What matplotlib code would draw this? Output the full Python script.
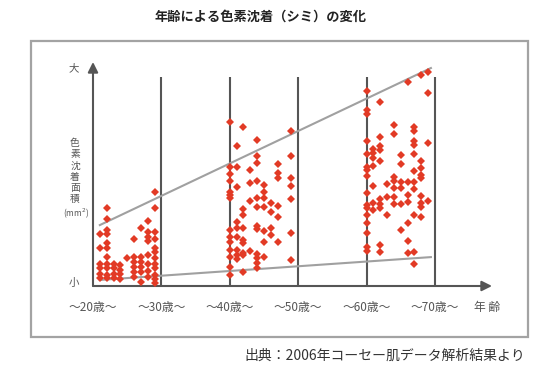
import matplotlib.pyplot as plt
from matplotlib.patches import Rectangle

plt.rcParams['font.family'] = ['Noto Sans CJK JP', 'DejaVu Sans']

# data (age in years, relative spot area 0-100)
age_20s = [29, 22, 29, 22, 28, 27, 22, 22, 21, 28,
           29, 28, 29, 26, 28, 22, 21, 22, 29, 22,
           29, 29, 28, 27, 26, 25, 21, 22, 23, 24,
           26, 27, 28, 29, 21, 22, 23, 24, 26, 27,
           29, 26, 27, 28, 21, 22, 23, 24, 26, 28,
           29, 21, 22, 23, 24, 29, 27, 29]
area_20s = [42, 35, 35, 30, 29, 26, 25, 23, 23, 24,
            24, 22, 21, 21, 20, 19, 17, 17, 17, 13,
            15, 12.5, 14, 13, 13, 12.5, 10, 10, 10, 9.4,
            10.7, 10.7, 10, 10, 8, 8, 8, 7, 8.5, 8.5,
            8, 6.3, 6.3, 6.7, 5.4, 4.9, 5.4, 5.4, 4, 4,
            4.9, 3.6, 3.6, 3.6, 3.1, 3.1, 1.8, 1.3]

age_40s = [40, 42, 49, 41, 44, 44, 44, 47, 49, 40,
           41, 43, 40, 47, 47, 49, 40, 43, 44, 45,
           41, 49, 40, 45, 40, 40, 43, 44, 45, 46,
           47, 49, 45, 44, 42, 46, 42, 47, 41, 40,
           41, 42, 44, 44, 45, 46, 46, 49, 40, 41,
           42, 40, 42, 45, 47, 40, 41, 42, 43, 44,
           40, 41, 42, 41, 44, 45, 49, 44, 40, 42,
           44, 40]
area_40s = [73, 71, 69, 62.5, 65, 58, 55, 54.5, 58, 53,
            53, 52, 50, 50.4, 48, 48, 47, 46, 47, 45,
            44, 44.6, 42, 42, 40.6, 39.3, 38, 39.3, 39.3, 37,
            35.7, 38.8, 35.3, 35.3, 34.4, 33, 31.7, 30.8, 28.6, 25,
            25.9, 25.9, 26.8, 25.4, 24.6, 25.9, 22.8, 23.7, 21.9, 21.9,
            20.5, 19.6, 19.2, 19.6, 19.6, 16, 16, 14.7, 15.6, 14.3,
            12.9, 13.8, 13.8, 12, 12.5, 12.9, 11.6, 10.3, 8.5, 6.3,
            8, 4.9]

age_60s = [60, 62, 66, 68, 69, 69, 60, 60, 64, 64,
           67, 67, 62, 60, 67, 69, 62, 67, 61, 62,
           60, 61, 67, 65, 61, 62, 68, 65, 61, 60,
           60, 68, 67, 68, 60, 68, 64, 64, 63, 65,
           66, 67, 61, 64, 65, 67, 60, 66, 63, 64,
           68, 62, 61, 60, 62, 64, 65, 66, 69, 68,
           60, 61, 62, 68, 60, 63, 67, 60, 66, 68,
           65, 60, 66, 60, 60, 62, 62, 66, 67, 67]
area_60s = [87, 82, 91, 94, 95.5, 86, 78.6, 77, 72, 68,
            71, 69, 66.5, 64.7, 64.7, 63.8, 62.5, 63, 61, 60.7,
            59, 59.4, 59, 58.5, 57, 56, 55.8, 54.5, 53.6, 53,
            51.8, 52.7, 51.3, 49.6, 49, 48.2, 48.7, 46.9, 45.5, 46.4,
            46.4, 46.4, 44.6, 43.8, 43.8, 43.3, 41.5, 40.6, 39.7, 39.7,
            40.2, 38.8, 37, 36.2, 36.6, 36.6, 36.6, 37.5, 37.9, 37,
            34.8, 33.9, 34.8, 35.3, 31.7, 31.7, 31.7, 28.1, 28.1, 30.8,
            25, 23.7, 20.1, 17.4, 15.6, 18.3, 15.2, 14.7, 15.2, 9.8]

# gray guide lines (upper / lower envelope)
upper_x = [21.0, 69.4]
upper_y = [27.2, 97.3]
lower_x = [21.0, 69.4]
lower_y = [2.7, 12.9]

decades = [30, 40, 50, 60, 70]
x_labels = ['～20歳～', '～30歳～', '～40歳～', '～50歳～', '～60歳～', '～70歳～']
x_label_ages = [20, 30, 40, 50, 60, 70]


def fx(px):
    return px / 558


def fy(py):
    return 1 - py / 377


fig = plt.figure(figsize=(5.58, 3.77), dpi=100)
fig.patches.append(Rectangle((fx(31), fy(337)), fx(528) - fx(31), fy(41) - fy(337),
                             transform=fig.transFigure, fill=False,
                             edgecolor='#a3a3a3', linewidth=1.6))

x_end = 20 + 399 / 6.84
ax = fig.add_axes([fx(93), fy(286), fx(492) - fx(93), fy(62) - fy(286)])
ax.set_xlim(20, x_end)
ax.set_ylim(0, 100)
ax.axis('off')

axis_col = '#555555'
for d in decades:
    ax.plot([d, d], [0, 93.3], color=axis_col, linewidth=1.5, solid_capstyle='butt', zorder=1)

arrow = dict(arrowstyle='-|>,head_length=0.6,head_width=0.3', color=axis_col,
             lw=1.5, shrinkA=0, shrinkB=0, mutation_scale=10)
ax.annotate('', xy=(x_end, 0), xytext=(20, 0), annotation_clip=False, arrowprops=arrow)
ax.annotate('', xy=(20, 100), xytext=(20, 0), annotation_clip=False, arrowprops=arrow)

ax.plot(upper_x, upper_y, color='#a0a0a0', linewidth=1.5, zorder=2)
ax.plot(lower_x, lower_y, color='#a0a0a0', linewidth=1.5, zorder=2)

red = '#e23a25'
for ages, areas in [(age_20s, area_20s), (age_40s, area_40s), (age_60s, area_60s)]:
    ax.plot(ages, areas, 'D', color=red, markersize=3.6, markeredgewidth=0, zorder=3)

# texts
fig.text(fx(261), fy(17), '年齢による色素沈着（シミ）の変化', ha='center', va='center',
         fontsize=9.5, fontweight='bold', color='#222222')

txt_col = '#555555'
fig.text(fx(74), fy(68), '大', ha='center', va='center', fontsize=7.5, color=txt_col)
fig.text(fx(74), fy(283), '小', ha='center', va='center', fontsize=7.5, color=txt_col)
for i, ch in enumerate('色素沈着面積'):
    fig.text(fx(75), fy(143 + i * 11.2), ch, ha='center', va='center', fontsize=7, color=txt_col)
fig.text(fx(76), fy(213), '(mm$^2$)', ha='center', va='center', fontsize=6, color=txt_col)

label_y = -22 / 2.24
for a, lab in zip(x_label_ages, x_labels):
    ax.text(a, label_y, lab, ha='center', va='center', fontsize=8.5,
            color=txt_col, clip_on=False)
fig.text(fx(487), fy(308), '年 齢', ha='center', va='center', fontsize=8.5, color=txt_col)

fig.text(fx(525), fy(356), '出典：2006年コーセー肌データ解析結果より', ha='right', va='center',
         fontsize=10, color='#333333')

plt.savefig('out.png', dpi=100)
